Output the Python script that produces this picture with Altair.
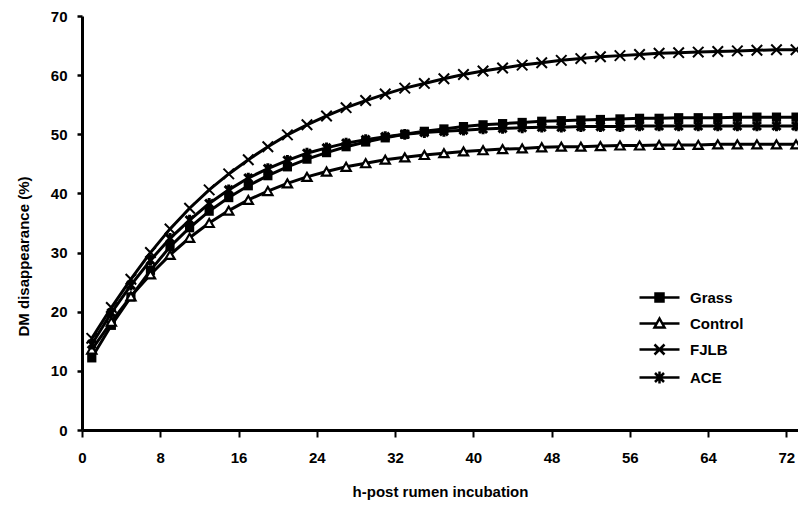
import altair as alt
import pandas as pd

# ---- data ----
hours = [1, 3, 5, 7, 9, 11, 13, 15, 17, 19, 21, 23, 25, 27, 29, 31, 33, 35, 37,
         39, 41, 43, 45, 47, 49, 51, 53, 55, 57, 59, 61, 63, 65, 67, 69, 71, 73]

series_names = ["Grass", "Control", "FJLB", "ACE"]

grass = [12.2, 17.7, 22.5, 27.0, 31.0, 34.2, 37.0, 39.3, 41.3, 43.0, 44.5, 45.8,
         46.9, 47.9, 48.7, 49.4, 50.0, 50.5, 50.9, 51.3, 51.6, 51.8, 52.0, 52.2,
         52.3, 52.4, 52.5, 52.6, 52.7, 52.7, 52.8, 52.8, 52.8, 52.9, 52.9, 52.9, 52.9]

control = [13.6, 18.3, 22.6, 26.3, 29.6, 32.5, 35.0, 37.1, 38.9, 40.4, 41.7, 42.8,
           43.7, 44.5, 45.1, 45.7, 46.1, 46.5, 46.8, 47.1, 47.3, 47.5, 47.6, 47.8,
           47.9, 47.9, 48.0, 48.1, 48.1, 48.2, 48.2, 48.2, 48.3, 48.3, 48.3, 48.3, 48.3]

fjlb = [15.5, 20.7, 25.5, 30.0, 34.0, 37.5, 40.6, 43.3, 45.7, 47.9, 49.9, 51.6,
        53.1, 54.5, 55.7, 56.8, 57.8, 58.6, 59.4, 60.1, 60.7, 61.2, 61.7, 62.1,
        62.5, 62.8, 63.1, 63.3, 63.5, 63.7, 63.8, 63.9, 64.0, 64.1, 64.2, 64.3, 64.3]

ace = [14.5, 19.8, 24.5, 28.7, 32.4, 35.5, 38.3, 40.6, 42.6, 44.2, 45.6, 46.8,
       47.7, 48.5, 49.1, 49.6, 50.0, 50.3, 50.5, 50.7, 50.9, 51.0, 51.1, 51.2,
       51.2, 51.3, 51.3, 51.3, 51.4, 51.4, 51.4, 51.4, 51.4, 51.4, 51.4, 51.4, 51.4]

x_ticks = list(range(0, 73, 2))
y_ticks = [0, 10, 20, 30, 40, 50, 60, 70]

rows = []
for name, vals in zip(series_names, [grass, control, fjlb, ace]):
    for h, v in zip(hours, vals):
        rows.append({"h": h, "dm": v, "series": name})
df = pd.DataFrame(rows)

FONT = "Liberation Sans"

x_enc = alt.X(
    "h:Q",
    scale=alt.Scale(domain=[0, 73.2], nice=False, zero=False),
    axis=alt.Axis(
        values=x_ticks,
        labelExpr="datum.value % 8 === 0 ? datum.label : ''",
        title="h-post rumen incubation",
        titleFont=FONT, titleFontSize=15, titleFontWeight="bold", titleColor="black",
        titlePadding=19,
        labelFont=FONT, labelFontSize=15, labelFontWeight="bold", labelColor="black",
        labelPadding=13, labelFlush=False, labelOverlap=False,
        tickSize=7, tickWidth=2, tickColor="black",
        domainWidth=3, domainColor="black", grid=False,
    ),
)
y_enc = alt.Y(
    "dm:Q",
    scale=alt.Scale(domain=[0, 70], nice=False),
    axis=alt.Axis(
        values=y_ticks,
        title="DM disappearance (%)",
        titleFont=FONT, titleFontSize=15, titleFontWeight="bold", titleColor="black",
        titlePadding=19, titleY=240,
        labelFont=FONT, labelFontSize=15, labelFontWeight="bold", labelColor="black",
        labelPadding=10, labelFlush=False,
        tickSize=5, tickWidth=2.5, tickColor="black",
        domainWidth=3, domainColor="black", grid=False,
    ),
)

base = alt.Chart(df)

lines = base.mark_line(color="black", strokeWidth=3).encode(
    x=x_enc, y=y_enc, detail="series:N"
)

def pts(name, **kw):
    return base.transform_filter(alt.datum.series == name).mark_point(opacity=1, **kw).encode(
        x="h:Q", y="dm:Q"
    )

p_grass = pts("Grass", shape="square", filled=True, color="black", size=85)
p_control = pts("Control", shape="triangle-up", fill="white", stroke="black",
                strokeWidth=2.2, size=85)
p_fjlb = pts("FJLB", shape="M-1,-1L1,1M-1,1L1,-1", filled=False, stroke="black",
             strokeWidth=2, size=110)
p_ace = pts("ACE", shape="M-0.9,-0.9L0.9,0.9M-0.9,0.9L0.9,-0.9M0,-1.2L0,1.2",
            filled=False, stroke="black", strokeWidth=3, size=80)

legend_paths = [
    "M-4,0L4,0M-0.8,-0.8L0.8,-0.8L0.8,0.8L-0.8,0.8Z",
    "M-4,0L-0.7,0M0.7,0L4,0M0,-1L1,0.8L-1,0.8Z",
    "M-4,0L4,0M-1,-1L1,1M-1,1L1,-1",
    "M-4,0L4,0M-0.9,-0.9L0.9,0.9M-0.9,0.9L0.9,-0.9M0,-1.2L0,1.2",
]
legend_fills = ["black", "white", "black", "black"]
legend_strokes = ["black", "black", "black", "black"]

leg = dict(
    orient="none", legendX=570, legendY=274, title=None, padding=0,
    labelFont=FONT, labelFontSize=15, labelFontWeight="bold", labelColor="black",
    labelOffset=23, rowPadding=6, symbolSize=100, symbolStrokeWidth=2.5,
    symbolOpacity=1,
)

legend_layer = base.transform_filter("false").mark_point(
    opacity=1, strokeWidth=2.5, size=100
).encode(
    shape=alt.Shape("series:N", scale=alt.Scale(domain=series_names, range=legend_paths),
                    legend=alt.Legend(**leg)),
    fill=alt.Fill("series:N", scale=alt.Scale(domain=series_names, range=legend_fills),
                  legend=alt.Legend(**leg)),
    stroke=alt.Stroke("series:N", scale=alt.Scale(domain=series_names, range=legend_strokes),
                      legend=alt.Legend(**leg)),
)

chart = alt.layer(lines, p_grass, p_control, p_fjlb, p_ace, legend_layer).properties(
    width=716, height=414,
    autosize=alt.AutoSizeParams(type="none"),
    padding={"left": 74, "top": 8, "right": 0, "bottom": 72},
    background="white",
).configure_view(stroke=None)

chart.save("out.html", embed_options={"renderer": "svg", "actions": False})
